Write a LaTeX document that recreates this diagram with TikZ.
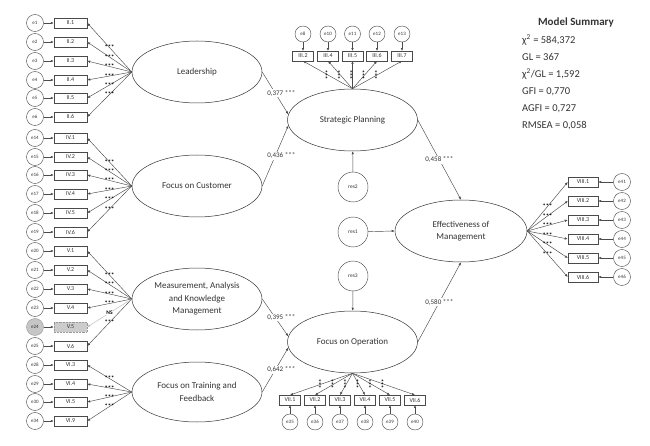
\documentclass[tikz,border=0pt]{standalone}
\usepackage{fontspec}
\setmainfont{Carlito}
\usetikzlibrary{arrows.meta,shapes.geometric}
\definecolor{ink}{HTML}{333333}
\definecolor{ln}{HTML}{4A4A4A}
\begin{document}
\begin{tikzpicture}[x=1pt,y=-1pt,
  every node/.style={text=ink},
  lat/.style={ellipse,draw=ink,line width=0.5pt,minimum width=130pt,minimum height=62pt,inner sep=0pt,align=center,font=\fontsize{9}{12.5}\selectfont},
  err/.style={circle,draw=ln,line width=0.45pt,minimum size=17pt,inner sep=0pt,font=\fontsize{5}{6}\selectfont},
  res/.style={circle,draw=ln,line width=0.45pt,minimum size=30pt,inner sep=0pt,font=\fontsize{5.5}{6}\selectfont},
  obs/.style={rectangle,draw=ln,line width=0.45pt,minimum width=33pt,minimum height=10pt,inner sep=0pt,font=\fontsize{6}{7}\selectfont},
  obsn/.style={obs,minimum width=21pt,minimum height=9.5pt},
  obsr/.style={obs,minimum width=30pt},
  arr/.style={-{Latex[length=3pt,width=2.4pt]},draw=ln,line width=0.45pt},
  sig/.style={font=\bfseries\fontsize{6.5}{6.5}\selectfont,text=black,inner sep=0.3pt},
  coef/.style={font=\fontsize{7}{8}\selectfont,fill=white,inner sep=0.8pt},
  summ/.style={font=\fontsize{10.5}{12}\selectfont,anchor=west,inner sep=0pt}]
\useasboundingbox (0,0) rectangle (650,446);

% latent variables
\node[lat] (LEAD) at (197,72) {Leadership};
\node[lat] (FC) at (197,186) {Focus on Customer};
\node[lat] (MAKM) at (197,299) {Measurement, Analysis\\and Knowledge\\Management};
\node[lat,minimum height=60pt] (FT) at (197,392) {Focus on Training and\\Feedback};
\node[lat] (SP) at (352.5,120) {Strategic Planning};
\node[lat] (FO) at (352.5,342) {Focus on Operation};
\node[lat,minimum width=132pt] (EM) at (461,231) {Effectiveness of\\Management};

% residuals
\node[res] (res2) at (353,187) {res2};
\node[res] (res1) at (353,232) {res1};
\node[res] (res3) at (353,276) {res3};
\draw[arr] (res2) -- (SP);
\draw[arr] (res1) -- (EM.west);
\draw[arr] (res3) -- (FO);

% Leadership indicators
\foreach \lab/\err/\y in {II.1/e1/23,II.2/e2/42,II.3/e3/61,II.4/e4/80,II.5/e5/98,II.6/e6/117}{
  \node[err] (\err) at (35,\y) {\err};
  \node[obs] (b\err) at (70.5,\y) {\lab};
  \draw[arr] (\err) -- (b\err);
  \draw[arr] (LEAD.west) -- node[sig]{***} (b\err.east);
}
% Customer indicators
\foreach \lab/\err/\y in {IV.1/e14/138,IV.2/e15/157,IV.3/e16/175,IV.4/e17/194,IV.5/e18/213,IV.6/e19/232}{
  \node[err] (\err) at (35,\y) {\err};
  \node[obs] (b\err) at (70.5,\y) {\lab};
  \draw[arr] (\err) -- (b\err);
  \draw[arr] (FC.west) -- node[sig]{***} (b\err.east);
}
% Measurement indicators
\foreach \lab/\err/\y in {V.1/e20/251,V.2/e21/270,V.3/e22/289,V.4/e23/308,V.6/e25/346}{
  \node[err] (\err) at (35,\y) {\err};
  \node[obs] (b\err) at (70.5,\y) {\lab};
  \draw[arr] (\err) -- (b\err);
  \draw[arr] (MAKM.west) -- node[sig]{***} (b\err.east);
}
\node[err,fill=gray!45,draw=gray!80] (e24) at (35,327) {e24};
\node[obs,fill=gray!40,draw=gray!80,densely dotted] (be24) at (70.5,327) {V.5};
\draw[arr] (e24) -- (be24);
\draw[arr,draw=gray!55] (MAKM.west) -- node[sig,fill=white,font=\bfseries\fontsize{5.5}{6}\selectfont]{NS} (be24.east);
% Training indicators
\foreach \lab/\err/\y in {VI.3/e28/365,VI.4/e29/384,VI.5/e30/402,VI.9/e34/421}{
  \node[err] (\err) at (35,\y) {\err};
  \node[obs] (b\err) at (70.5,\y) {\lab};
  \draw[arr] (\err) -- (b\err);
  \draw[arr] (FT.west) -- node[sig]{***} (b\err.east);
}
% Strategic planning indicators
\foreach \lab/\err/\x in {III.2/e8/303,III.4/e10/328,III.5/e11/352.5,III.6/e12/377,III.7/e13/402}{
  \node[err,minimum size=16pt] (\err) at (\x,34) {\err};
  \node[obsn] (b\err) at (\x,56) {\lab};
  \draw[arr] (\err) -- (b\err);
  \draw[arr] (SP.north) -- node[sig,rotate=90]{***} (b\err.south);
}
% Operation indicators
\foreach \lab/\err/\x in {VII.1/e35/290,VII.2/e36/315,VII.3/e37/340,VII.4/e38/365,VII.5/e39/390,VII.6/e40/415}{
  \node[err,minimum size=16pt] (\err) at (\x,422) {\err};
  \node[obsn] (b\err) at (\x,400) {\lab};
  \draw[arr] (\err) -- (b\err);
  \draw[arr] (FO.south) -- node[sig,rotate=90]{***} (b\err.north);
}
% Effectiveness indicators
\foreach \lab/\err/\y in {VIII.1/e41/182,VIII.2/e42/201,VIII.3/e43/220,VIII.4/e44/239,VIII.5/e45/258,VIII.6/e46/277}{
  \node[err] (\err) at (622,\y) {\err};
  \node[obsr] (b\err) at (583,\y) {\lab};
  \draw[arr] (\err) -- (b\err);
  \draw[arr] (EM.east) -- node[sig]{***} (b\err.west);
}

% structural paths
\draw[arr] (LEAD.east) -- node[coef,pos=0.5,xshift=6pt]{0,377 ***} (SP.175);
\draw[arr] (FC.east) -- node[coef,pos=0.5,xshift=6pt]{0,436 ***} (SP.185);
\draw[arr] (MAKM.east) -- node[coef,pos=0.5,xshift=6pt]{0,395 ***} (FO.175);
\draw[arr] (FT.east) -- node[coef,pos=0.5,xshift=6pt]{0,642 ***} (FO.185);
\draw[arr] (SP.east) -- node[coef,pos=0.5]{0,458 ***} (EM.north);
\draw[arr] (FO.east) -- node[coef,pos=0.5]{0,580 ***} (EM.south);

% model summary
\node[font=\bfseries\fontsize{11}{12}\selectfont,inner sep=0pt] (ms) at (576,23) {Model Summary};
\node[summ] (s1) at (522,40) {χ\textsuperscript{2} = 584,372};
\node[summ] (s2) at (522,57) {GL = 367};
\node[summ] (s3) at (522,74) {χ\textsuperscript{2}/GL = 1,592};
\node[summ] (s4) at (522,92) {GFI = 0,770};
\node[summ] (s5) at (522,109) {AGFI = 0,727};
\node[summ] (s6) at (522,126) {RMSEA = 0,058};
\end{tikzpicture}
\end{document}
